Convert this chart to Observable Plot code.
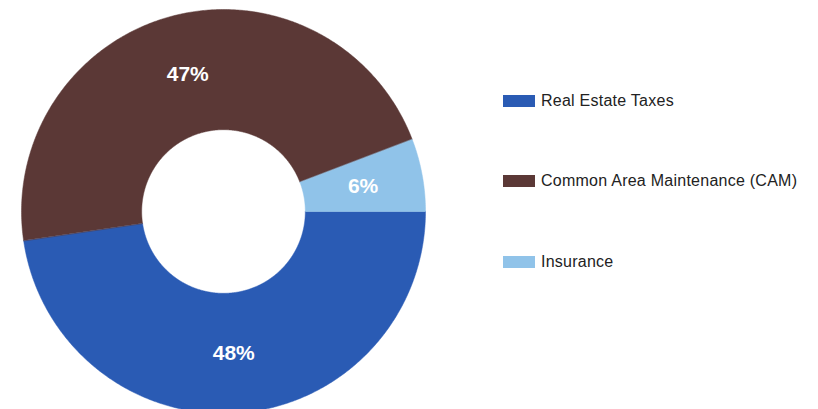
<!DOCTYPE html>
<html>
<head>
<meta charset="utf-8">
<script src="https://cdn.jsdelivr.net/npm/d3@7"></script>
<script src="https://cdn.jsdelivr.net/npm/@observablehq/plot@0.6"></script>
<style>
  html, body { margin: 0; padding: 0; background: #fff; }
  #wrap { position: relative; width: 818px; height: 409px; overflow: hidden; }
  #legend { position: absolute; left: 503px; top: 0; font-family: "Liberation Sans", Arial, sans-serif; font-size: 16px; color: #222; letter-spacing: 0.25px; }
  .item { position: absolute; left: 0; display: flex; align-items: center; white-space: nowrap; }
  .sw { width: 32px; height: 12px; margin-right: 6px; }
</style>
</head>
<body>
<div id="wrap"><div id="chart"></div><div id="legend"></div></div>
<script>
const categories = ["Real Estate Taxes", "Common Area Maintenance (CAM)", "Insurance"];
const values = [47.7, 46.5, 5.8];
const colors = ["#2a5bb4", "#5b3836", "#90c3e9"];
const legendTops = [101, 181, 262];

const innerR = 0.405;
const outerR = 1;
const total = d3.sum(values);

// slice angles (clockwise from north), starting at east
const pie = d3.pie().sort(null).value(d => d.value).startAngle(Math.PI / 2).endAngle(Math.PI / 2 + 2 * Math.PI);
const arcs = pie(categories.map((c, i) => ({category: c, value: values[i]})));

// polygon outline of each slice in unit coordinates
const polys = [];
arcs.forEach(a => {
  const n = Math.max(8, Math.ceil((a.endAngle - a.startAngle) / (Math.PI / 360)));
  const pts = [];
  for (let k = 0; k <= n; k++) {
    const t = a.startAngle + (a.endAngle - a.startAngle) * k / n;
    pts.push([outerR * Math.sin(t), outerR * Math.cos(t)]);
  }
  for (let k = n; k >= 0; k--) {
    const t = a.startAngle + (a.endAngle - a.startAngle) * k / n;
    pts.push([innerR * Math.sin(t), innerR * Math.cos(t)]);
  }
  pts.forEach((p, j) => polys.push({category: a.data.category, x: p[0], y: p[1], j}));
});

const labels = arcs.map(a => {
  const m = (a.startAngle + a.endAngle) / 2;
  const r = (innerR + outerR) / 2;
  return {x: r * Math.sin(m), y: r * Math.cos(m), text: Math.round(a.data.value / total * 100) + "%"};
});

const plot = Plot.plot({
  width: 818,
  height: 409,
  margin: 0,
  x: {domain: [-1, 1], range: [21, 425], axis: null},
  y: {domain: [-1, 1], range: [413, 9], axis: null},
  color: {domain: categories, range: colors},
  style: {background: "#fff"},
  marks: [
    Plot.line(polys, {x: "x", y: "y", z: "category", fill: "category", stroke: "category", strokeWidth: 0.5, curve: "linear-closed"}),
    Plot.text(labels, {x: "x", y: "y", text: "text", fill: "white", fontSize: 21, fontWeight: "bold", fontFamily: "Liberation Sans, Arial, sans-serif"})
  ]
});
document.getElementById("chart").appendChild(plot);

const legend = document.getElementById("legend");
categories.forEach((c, i) => {
  const it = document.createElement("div");
  it.className = "item";
  it.style.top = (legendTops[i] - 10) + "px";
  it.style.height = "20px";
  const sw = document.createElement("span");
  sw.className = "sw";
  sw.style.background = colors[i];
  const tx = document.createElement("span");
  tx.textContent = c;
  it.appendChild(sw);
  it.appendChild(tx);
  legend.appendChild(it);
});
</script>
</body>
</html>
